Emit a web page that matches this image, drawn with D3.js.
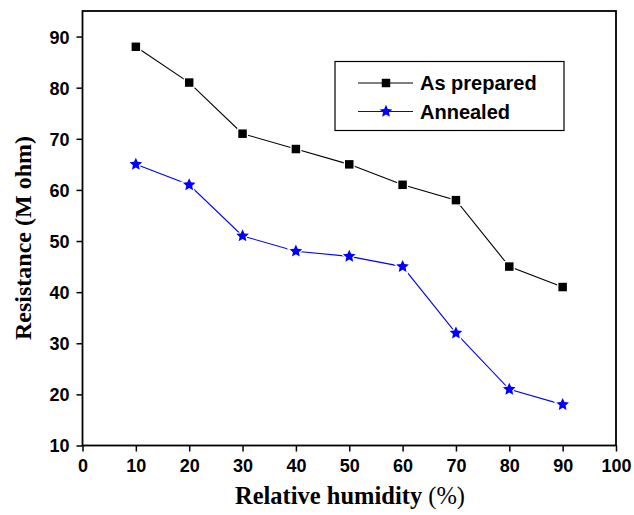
<!DOCTYPE html>
<html>
<head>
<meta charset="utf-8">
<script src="https://cdn.jsdelivr.net/npm/d3@7"></script>
<style>
  body { margin: 0; background: #fff; }
  .tick text { font-family: "Liberation Sans", Arial, sans-serif; font-weight: bold; font-size: 18px; fill: #000; }
</style>
</head>
<body>
<div id="chart"></div>
<script>
// data
const humidity = [10, 20, 30, 40, 50, 60, 70, 80, 90];
const asPrepared = [88, 81, 71, 68, 65, 61, 58, 45, 41];
const annealed = [65, 61, 51, 48, 47, 45, 32, 21, 18];
const xTicks = [0, 10, 20, 30, 40, 50, 60, 70, 80, 90, 100];
const yTicks = [10, 20, 30, 40, 50, 60, 70, 80, 90];

const w = 634, h = 515;
const padLeft = 82.5, padRight = 616, padTop = 11, padBot = 445.5;

// a slightly chubbier star than d3.symbolStar, like the plotting program's
// size here is the square of the outer radius
const fatStar = {
  draw(context, size) {
    const r = Math.sqrt(size), ri = r * 0.47;
    for (let i = 0; i < 10; i++) {
      const a = -Math.PI / 2 + i * Math.PI / 5;
      const rr = i % 2 ? ri : r;
      if (i === 0) context.moveTo(rr * Math.cos(a), rr * Math.sin(a));
      else context.lineTo(rr * Math.cos(a), rr * Math.sin(a));
    }
    context.closePath();
  }
};

const svg = d3.select("#chart").append("svg")
  .attr("width", w)
  .attr("height", h);

const x = d3.scaleLinear().domain([0, 100]).range([padLeft, padRight]);
const y = d3.scaleLinear().domain([10, 95]).range([padBot, padTop]);

// axes
svg.append("g")
  .attr("transform", `translate(0,${padBot})`)
  .call(d3.axisBottom(x).tickValues(xTicks).tickSize(6).tickPadding(8))
  .call(g => g.select(".domain").remove())
  .call(g => g.selectAll("line").attr("stroke-width", 1.5));
svg.append("g")
  .attr("transform", `translate(${padLeft},0)`)
  .call(d3.axisLeft(y).tickValues(yTicks).tickSize(6).tickPadding(7))
  .call(g => g.select(".domain").remove())
  .call(g => g.selectAll("line").attr("stroke-width", 1.5))
  .call(g => g.selectAll("text").attr("dy", "0.36em"));

// frame
svg.append("rect")
  .attr("x", padLeft).attr("y", padTop)
  .attr("width", padRight - padLeft).attr("height", padBot - padTop)
  .attr("fill", "none").attr("stroke", "#000").attr("stroke-width", 1.8);

// series
const series = [
  { name: "As prepared", values: asPrepared, color: "#000", symbol: d3.symbolSquare, size: 72 },
  { name: "Annealed", values: annealed, color: "#0000ff", symbol: fatStar, size: 44 }
];

const line = d3.line().x(d => x(d[0])).y(d => y(d[1]));

series.forEach(s => {
  const pts = humidity.map((hv, i) => [hv, s.values[i]]);
  svg.append("path")
    .datum(pts)
    .attr("d", line)
    .attr("fill", "none")
    .attr("stroke", s.color)
    .attr("stroke-width", 1.1);
  svg.selectAll(null)
    .data(pts)
    .enter().append("path")
    .attr("transform", d => `translate(${x(d[0])},${y(d[1])})`)
    .attr("d", d3.symbol().type(s.symbol).size(s.size))
    .attr("fill", s.color)
    .attr("stroke", "#fff")
    .attr("stroke-width", 2.5)
    .attr("paint-order", "stroke");
});

// legend
const legend = svg.append("g");
legend.append("rect")
  .attr("x", 335).attr("y", 61.5)
  .attr("width", 229).attr("height", 69)
  .attr("fill", "#fff").attr("stroke", "#000").attr("stroke-width", 1.2);
series.forEach((s, i) => {
  const ly = 83 + i * 28.5;
  legend.append("line")
    .attr("x1", 358).attr("x2", 413).attr("y1", ly).attr("y2", ly)
    .attr("stroke", s.color).attr("stroke-width", 1.1);
  legend.append("path")
    .attr("transform", `translate(386,${ly})`)
    .attr("d", d3.symbol().type(s.symbol).size(s.size))
    .attr("fill", s.color);
  legend.append("text")
    .attr("x", 420).attr("y", ly).attr("dy", "0.36em")
    .attr("font-family", "Liberation Sans, Arial, sans-serif")
    .attr("font-weight", "bold").attr("font-size", 20)
    .text(s.name);
});

// axis titles
const xt = svg.append("text")
  .attr("x", 350).attr("y", 504)
  .attr("text-anchor", "middle")
  .attr("font-family", "Liberation Serif, Times New Roman, serif")
  .attr("font-size", 24.5);
xt.append("tspan").attr("font-weight", "bold").text("Relative humidity ");
xt.append("tspan").text("(%)");

svg.append("text")
  .attr("transform", "translate(31,238) rotate(-90)")
  .attr("text-anchor", "middle")
  .attr("font-family", "Liberation Serif, Times New Roman, serif")
  .attr("font-weight", "bold")
  .attr("font-size", 24)
  .text("Resistance (M ohm)");
</script>
</body>
</html>
